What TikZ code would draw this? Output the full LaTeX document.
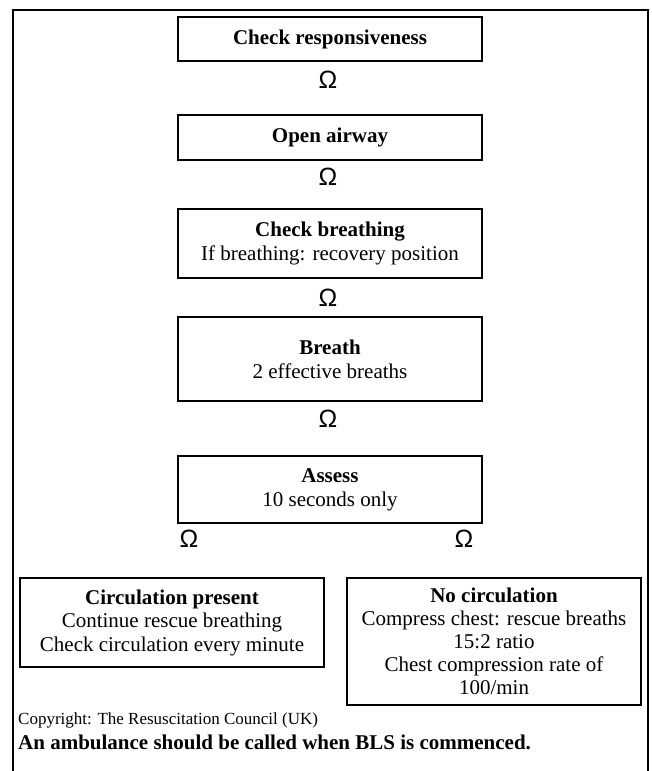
\documentclass[tikz,border=0pt]{standalone}
\usepackage{fontspec}
\setmainfont{Liberation Serif}
\newfontfamily\omegafont{Liberation Sans}
\begin{document}
\begin{tikzpicture}[x=1pt,y=-1pt,
  stepbox/.style={draw,line width=2pt,inner sep=0pt,align=center,
    font=\fontsize{21}{24}\selectfont},
  omg/.style={inner sep=0pt,font=\omegafont\fontsize{25}{25}\selectfont},
  frame/.style={line width=1.6pt}]
\useasboundingbox (0,0) rectangle (652,771);
\draw[frame] (13,785) -- (13,10) -- (648,10) -- (648,785);
% main column
\node[stepbox,minimum width=304pt,minimum height=44pt] (b1) at (330,39) {\textbf{Check responsiveness}};
\node[omg] (o1) at (328,80) {Ω};
\node[stepbox,minimum width=304pt,minimum height=45pt] (b2) at (330,137.5) {\textbf{Open airway}};
\node[omg] (o2) at (328,177) {Ω};
\node[stepbox,minimum width=304pt,minimum height=69pt] (b3) at (330,243.5) {\textbf{Check breathing}\\If breathing: recovery position};
\node[omg] (o3) at (328,298) {Ω};
\node[stepbox,minimum width=304pt,minimum height=84pt] (b4) at (330,359) {\textbf{Breath}\\2 effective breaths};
\node[omg] (o4) at (328,419) {Ω};
\node[stepbox,minimum width=304pt,minimum height=67pt] (b5) at (330,489.5) {\textbf{Assess}\\10 seconds only};
\node[omg] (o5) at (189,539) {Ω};
\node[omg] (o6) at (464,539) {Ω};
% outcome boxes
\node[stepbox,minimum width=304pt,minimum height=89pt,anchor=north west] (b6) at (19,577) {};
\node[align=center,font=\fontsize{21}{23.5}\selectfont] (t6) at (b6.center) {\textbf{Circulation present}\\Continue rescue breathing\\Check circulation every minute};
\node[stepbox,minimum width=294pt,minimum height=127pt,anchor=north west] (b7) at (346,577) {};
\node[align=center,font=\fontsize{21}{23}\selectfont] (t7) at (b7.center) {\textbf{No circulation}\\Compress chest: rescue breaths\\15:2 ratio\\Chest compression rate of\\100/min};
% footer
\node[anchor=west,inner sep=0pt,font=\fontsize{17}{17}\selectfont] (cp) at (18,720) {Copyright: The Resuscitation Council (UK)};
\node[anchor=west,inner sep=0pt,font=\bfseries\fontsize{21}{21}\selectfont] (amb) at (18,742) {An ambulance should be called when BLS is commenced.};
\end{tikzpicture}
\end{document}
